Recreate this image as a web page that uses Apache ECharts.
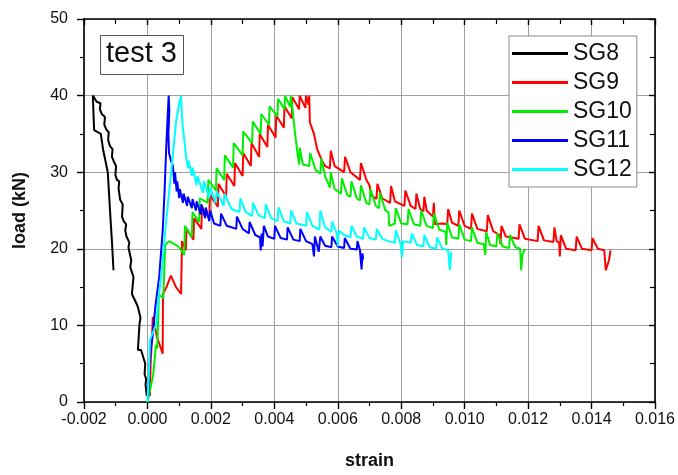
<!DOCTYPE html>
<html>
<head>
<meta charset="utf-8">
<script src="https://cdn.jsdelivr.net/npm/echarts@6/dist/echarts.min.js"></script>
<style>
  html, body { margin: 0; padding: 0; background: #fff; }
  #chart { width: 678px; height: 475px; }
</style>
</head>
<body>
<div id="chart"></div>
<script>
// Load (kN) against strain for strain gauges SG8–SG12, test 3. Each point is [strain, load].
const seriesNames = ['SG8', 'SG9', 'SG10', 'SG11', 'SG12'];
const seriesColors = ['#000000', '#ff0000', '#00ee00', '#0000ff', '#00ffff'];

const sg8 = [
  [-0.00002, 0.8], [-0.00006, 2.3], [-0.00004, 3.0], [-0.00009, 3.6], [-0.00007, 5.0],
  [-0.00020, 6.8], [-0.00030, 6.8], [-0.00025, 10.2], [-0.00022, 11.0], [-0.00030, 12.4],
  [-0.00034, 12.8], [-0.00049, 14.1], [-0.00044, 16.3], [-0.00054, 17.6], [-0.00051, 18.5],
  [-0.00060, 20.2], [-0.00057, 20.8], [-0.00066, 21.6], [-0.00070, 22.4], [-0.00067, 23.2],
  [-0.00075, 23.6], [-0.00080, 24.2], [-0.00078, 25.8], [-0.00086, 26.4], [-0.00091, 27.9],
  [-0.00089, 28.8], [-0.00096, 29.0], [-0.00101, 29.6], [-0.00099, 30.8], [-0.00107, 31.5],
  [-0.00112, 32.0], [-0.00110, 33.0], [-0.00118, 33.4], [-0.00124, 34.2], [-0.00122, 35.2],
  [-0.00130, 35.6], [-0.00136, 36.2], [-0.00134, 37.2], [-0.00144, 37.6], [-0.00150, 38.2],
  [-0.00148, 39.0], [-0.00160, 39.2], [-0.00172, 40.0],
  [-0.00170, 37.5], [-0.00168, 35.5], [-0.00147, 35.0], [-0.00140, 33.0], [-0.00125, 30.0],
  [-0.00118, 25.0], [-0.00112, 21.0], [-0.00107, 17.2]
];

const sg9 = [
  [0.00008, 0.8], [0.00010, 5.0], [0.00014, 8.0], [0.00017, 11.1], [0.00030, 8.5],
  [0.00048, 6.3], [0.00049, 14.1], [0.00060, 15.0], [0.00074, 16.5], [0.00090, 15.0],
  [0.00106, 14.1], [0.00109, 21.0],
  [0.00121, 19.8], [0.00123, 22.6], [0.00145, 21.2], [0.00147, 24.0], [0.00170, 22.6], [0.00172, 25.5],
  [0.00195, 24.0], [0.00197, 27.0], [0.00222, 25.5], [0.00224, 28.5], [0.00248, 26.8], [0.00250, 29.8],
  [0.00274, 28.2], [0.00276, 31.2], [0.00300, 29.5], [0.00302, 32.5], [0.00326, 30.8], [0.00328, 33.8],
  [0.00352, 32.0], [0.00354, 35.0], [0.00378, 33.3], [0.00380, 36.2], [0.00404, 34.5], [0.00406, 37.4],
  [0.00430, 35.8], [0.00432, 38.6], [0.00455, 37.0], [0.00457, 39.8], [0.00478, 38.2], [0.00480, 40.0],
  [0.00498, 38.4], [0.00500, 40.0], [0.00508, 38.8], [0.00510, 40.0],
  [0.00512, 36.5], [0.00525, 35.0], [0.00535, 33.0], [0.00550, 31.5], [0.00560, 30.8],
  [0.00575, 30.5], [0.00578, 32.8], [0.00590, 30.8], [0.00620, 30.0], [0.00623, 32.0],
  [0.00640, 30.0], [0.00670, 29.0], [0.00673, 31.2], [0.00690, 29.0], [0.00700, 28.3],
  [0.00705, 27.0], [0.00722, 26.5], [0.00725, 28.5], [0.00740, 26.6], [0.00765, 26.0],
  [0.00768, 28.2], [0.00780, 26.2], [0.00810, 25.6], [0.00813, 27.6], [0.00830, 25.6],
  [0.00845, 25.2], [0.00848, 27.2], [0.00860, 25.2], [0.00870, 24.9], [0.00873, 26.8],
  [0.00880, 25.0], [0.00900, 24.2], [0.00903, 26.0], [0.00906, 23.2], [0.00930, 23.3],
  [0.00945, 23.2], [0.00948, 25.2], [0.00960, 23.4], [0.00980, 23.0], [0.00983, 25.0],
  [0.01000, 23.0], [0.01020, 22.6], [0.01023, 24.6], [0.01040, 22.6], [0.01070, 22.3],
  [0.01073, 24.4], [0.01090, 22.3], [0.01110, 21.8], [0.01113, 20.6], [0.01116, 23.0],
  [0.01130, 21.6], [0.01170, 21.3], [0.01173, 23.2], [0.01190, 21.3], [0.01230, 21.0],
  [0.01233, 23.0], [0.01250, 21.1], [0.01280, 20.9], [0.01283, 22.8], [0.01290, 21.0],
  [0.01298, 20.8], [0.01300, 19.0], [0.01303, 21.8], [0.01320, 20.0], [0.01350, 19.8],
  [0.01353, 21.6], [0.01370, 20.0], [0.01400, 19.8], [0.01403, 21.4], [0.01420, 20.0],
  [0.01440, 19.8], [0.01445, 17.2], [0.01455, 18.5], [0.01460, 19.8]
];

const sg10 = [
  [0.00000, 0.0], [0.00018, 3.5], [0.00027, 7.5], [0.00031, 7.0], [0.00036, 14.0],
  [0.00050, 13.6], [0.00056, 20.5], [0.00068, 21.0], [0.00085, 20.6], [0.00100, 20.2],
  [0.00116, 19.2],
  [0.00118, 23.0], [0.00140, 21.5], [0.00142, 24.8], [0.00163, 23.5], [0.00165, 26.6],
  [0.00190, 26.0], [0.00192, 29.0], [0.00216, 27.6], [0.00218, 30.5], [0.00242, 29.0],
  [0.00244, 32.2], [0.00270, 30.6], [0.00272, 33.8], [0.00300, 32.2], [0.00302, 35.3],
  [0.00330, 33.8], [0.00332, 36.6], [0.00357, 35.0], [0.00359, 37.6], [0.00383, 36.2],
  [0.00385, 38.6], [0.00410, 37.3], [0.00412, 39.6], [0.00432, 38.2], [0.00434, 40.0],
  [0.00450, 38.5], [0.00452, 40.0],
  [0.00458, 38.0], [0.00464, 35.5], [0.00472, 32.8], [0.00478, 31.0], [0.00480, 33.2],
  [0.00490, 31.0], [0.00510, 30.8], [0.00513, 32.5], [0.00530, 30.3], [0.00545, 29.8],
  [0.00548, 31.8], [0.00560, 29.5], [0.00575, 28.0], [0.00578, 30.0], [0.00590, 27.8],
  [0.00610, 27.2], [0.00613, 29.2], [0.00630, 27.0], [0.00640, 26.8], [0.00643, 28.8],
  [0.00660, 26.6], [0.00670, 26.3], [0.00673, 28.3], [0.00690, 26.0], [0.00700, 25.8],
  [0.00703, 27.8], [0.00720, 25.6], [0.00730, 25.3], [0.00733, 27.3], [0.00750, 25.0],
  [0.00760, 24.8], [0.00762, 23.0], [0.00780, 23.3], [0.00783, 25.3], [0.00800, 23.3],
  [0.00820, 23.2], [0.00823, 25.2], [0.00840, 23.2], [0.00860, 23.0], [0.00863, 25.0],
  [0.00880, 23.0], [0.00900, 22.7], [0.00903, 24.6], [0.00920, 22.5], [0.00940, 22.2],
  [0.00942, 20.5], [0.00945, 23.4], [0.00960, 21.5], [0.00980, 21.3], [0.00983, 23.2],
  [0.01000, 21.2], [0.01020, 21.0], [0.01023, 22.8], [0.01040, 20.8], [0.01060, 20.6],
  [0.01065, 19.2], [0.01068, 22.2], [0.01080, 20.5], [0.01100, 20.3], [0.01103, 22.0],
  [0.01120, 20.3], [0.01140, 20.1], [0.01143, 21.8], [0.01160, 20.2], [0.01175, 20.0],
  [0.01178, 17.2], [0.01182, 19.2], [0.01190, 20.0]
];

const sg11 = [
  [0.00002, 0.5], [0.00006, 4.5], [0.00010, 6.8], [0.00016, 8.5], [0.00025, 12.5],
  [0.00037, 16.3], [0.00048, 22.3], [0.00054, 27.5], [0.00059, 33.0], [0.00064, 37.5],
  [0.00067, 40.0], [0.00069, 38.0], [0.00066, 35.0], [0.00068, 32.5], [0.00074, 31.5],
  [0.00080, 30.9], [0.00085, 28.5], [0.00087, 30.0], [0.00092, 27.5], [0.00094, 28.8],
  [0.00100, 26.6], [0.00102, 27.8], [0.00112, 26.0], [0.00114, 27.2], [0.00125, 25.6],
  [0.00127, 26.8], [0.00140, 25.3], [0.00142, 26.5], [0.00153, 25.0], [0.00155, 26.2],
  [0.00168, 24.5], [0.00170, 25.8], [0.00182, 24.0], [0.00184, 25.4], [0.00195, 23.6],
  [0.00198, 25.0], [0.00210, 23.3], [0.00230, 23.0], [0.00232, 24.6], [0.00250, 23.0],
  [0.00280, 22.6], [0.00282, 24.2], [0.00300, 22.6], [0.00320, 22.0], [0.00322, 23.5],
  [0.00340, 21.8], [0.00355, 21.5], [0.00357, 19.8], [0.00360, 22.0], [0.00363, 20.3],
  [0.00367, 23.0], [0.00380, 21.6], [0.00400, 21.3], [0.00402, 23.0], [0.00420, 21.4],
  [0.00440, 21.2], [0.00442, 22.8], [0.00460, 21.2], [0.00480, 21.0], [0.00482, 22.6],
  [0.00500, 21.0], [0.00520, 20.6], [0.00525, 19.0], [0.00528, 21.6], [0.00540, 19.6],
  [0.00545, 21.6], [0.00560, 20.4], [0.00580, 20.2], [0.00582, 21.6], [0.00600, 20.3],
  [0.00620, 20.1], [0.00622, 21.4], [0.00640, 20.0], [0.00660, 19.9], [0.00662, 21.0],
  [0.00670, 19.8], [0.00675, 17.3], [0.00678, 19.4], [0.00680, 18.6]
];

const sg12 = [
  [0.00000, 0.0], [0.00005, 4.0], [0.00008, 8.1], [0.00013, 8.0], [0.00028, 10.2],
  [0.00033, 12.8], [0.00044, 16.7], [0.00059, 23.6], [0.00075, 30.0], [0.00090, 36.5],
  [0.00100, 39.0], [0.00106, 40.0], [0.00110, 36.5], [0.00122, 32.0], [0.00128, 30.5],
  [0.00130, 31.5], [0.00140, 29.5], [0.00143, 30.6], [0.00155, 28.3], [0.00158, 29.5],
  [0.00175, 27.3], [0.00178, 28.8], [0.00195, 26.6], [0.00198, 28.0], [0.00215, 26.0],
  [0.00218, 27.5], [0.00240, 25.6], [0.00243, 27.2], [0.00265, 25.2], [0.00290, 24.8],
  [0.00293, 26.6], [0.00310, 24.8], [0.00330, 24.3], [0.00333, 26.0], [0.00350, 24.4],
  [0.00370, 24.0], [0.00373, 25.8], [0.00390, 24.0], [0.00410, 23.6], [0.00413, 25.4],
  [0.00430, 23.6], [0.00450, 23.3], [0.00453, 25.0], [0.00470, 23.3], [0.00500, 23.0],
  [0.00503, 24.8], [0.00520, 23.0], [0.00542, 22.5], [0.00545, 25.0], [0.00560, 22.8],
  [0.00580, 22.2], [0.00583, 23.6], [0.00598, 21.8], [0.00600, 20.3], [0.00603, 22.4],
  [0.00620, 21.8], [0.00640, 21.5], [0.00643, 23.0], [0.00660, 21.6], [0.00680, 21.3],
  [0.00683, 22.8], [0.00700, 21.4], [0.00720, 21.2], [0.00723, 22.6], [0.00740, 21.3],
  [0.00760, 21.0], [0.00780, 20.8], [0.00783, 22.4], [0.00798, 20.6], [0.00802, 18.9],
  [0.00806, 21.0], [0.00830, 20.8], [0.00833, 22.0], [0.00850, 20.5], [0.00870, 20.3],
  [0.00873, 21.8], [0.00890, 20.2], [0.00910, 20.0], [0.00913, 21.5], [0.00930, 20.0],
  [0.00948, 19.8], [0.00953, 17.2], [0.00958, 19.6]
];

const strainTicks = { min: -0.002, max: 0.016, step: 0.002 };
const loadTicks = { min: 0, max: 50, step: 10 };

const FONT = '"Liberation Sans", Arial, sans-serif';
const seriesData = [sg8, sg9, sg10, sg11, sg12];

const chart = echarts.init(document.getElementById('chart'), null, { renderer: 'canvas' });

const frameLine = { show: true, onZero: false, lineStyle: { color: '#000', width: 1.6 } };

chart.setOption({
  animation: false,
  backgroundColor: '#fff',
  grid: { left: 84, right: 21, top: 19, bottom: 69, containLabel: false },
  xAxis: [
    {
      type: 'value', position: 'bottom',
      min: strainTicks.min, max: strainTicks.max, interval: strainTicks.step,
      name: 'strain', nameLocation: 'middle', nameGap: 50,
      nameTextStyle: { fontFamily: FONT, fontWeight: 'bold', fontSize: 18, color: '#111' },
      axisLine: frameLine,
      axisTick: { show: true, inside: false, length: 7, lineStyle: { color: '#000', width: 1.4 } },
      minorTick: { show: true, splitNumber: 2, length: 4, lineStyle: { color: '#000', width: 1.2 } },
      axisLabel: {
        margin: 10, fontFamily: FONT, fontSize: 16, color: '#111',
        formatter: v => (Math.abs(v) < 1e-12 ? 0 : v).toFixed(3)
      },
      splitLine: { show: true, lineStyle: { color: '#a0a0a0', width: 1 } }
    },
    {
      type: 'value', position: 'top',
      min: strainTicks.min, max: strainTicks.max, interval: strainTicks.step,
      axisLine: frameLine,
      axisTick: { show: true, inside: true, length: 6, lineStyle: { color: '#000', width: 1.4 } },
      minorTick: { show: true, splitNumber: 2, length: 5, lineStyle: { color: '#000', width: 1.2 } },
      axisLabel: { show: false },
      splitLine: { show: false }
    }
  ],
  yAxis: [
    {
      type: 'value', position: 'left',
      min: loadTicks.min, max: loadTicks.max, interval: loadTicks.step,
      name: 'load (kN)', nameLocation: 'middle', nameGap: 55,
      nameTextStyle: { fontFamily: FONT, fontWeight: 'bold', fontSize: 18, color: '#111' },
      axisLine: frameLine,
      axisTick: { show: true, inside: false, length: 7, lineStyle: { color: '#000', width: 1.4 } },
      minorTick: { show: true, splitNumber: 2, length: 4, lineStyle: { color: '#000', width: 1.2 } },
      axisLabel: { margin: 16, fontFamily: FONT, fontSize: 16, color: '#111' },
      splitLine: { show: true, lineStyle: { color: '#a0a0a0', width: 1 } }
    },
    {
      type: 'value', position: 'right',
      min: loadTicks.min, max: loadTicks.max, interval: loadTicks.step,
      axisLine: frameLine,
      axisTick: { show: true, inside: true, length: 6, lineStyle: { color: '#000', width: 1.4 } },
      minorTick: { show: true, splitNumber: 2, length: 5, lineStyle: { color: '#000', width: 1.2 } },
      axisLabel: { show: false },
      splitLine: { show: false }
    }
  ],
  legend: {
    orient: 'vertical',
    left: 509, top: 36,
    padding: [6, 5, 6, 3],
    icon: 'rect',
    itemWidth: 56, itemHeight: 3, itemGap: 6,
    backgroundColor: '#fff',
    borderColor: '#8a8a8a', borderWidth: 1,
    textStyle: { fontFamily: FONT, fontSize: 23, lineHeight: 23, color: '#111' },
    data: seriesNames
  },
  graphic: [
    {
      type: 'rect', left: 100, top: 35, z: 10,
      shape: { width: 83, height: 39 },
      style: { fill: '#fff', stroke: '#555', lineWidth: 1 }
    },
    {
      type: 'text', left: 106, top: 39, z: 11,
      style: { text: 'test 3', font: '29px ' + FONT, fill: '#111' }
    }
  ],
  series: seriesNames.map((name, i) => ({
    name,
    type: 'line',
    xAxisIndex: 0,
    yAxisIndex: 0,
    data: seriesData[i],
    symbol: 'none',
    showSymbol: false,
    color: seriesColors[i],
    lineStyle: { color: seriesColors[i], width: 2 },
    z: 2 + i
  }))
});
</script>
</body>
</html>
